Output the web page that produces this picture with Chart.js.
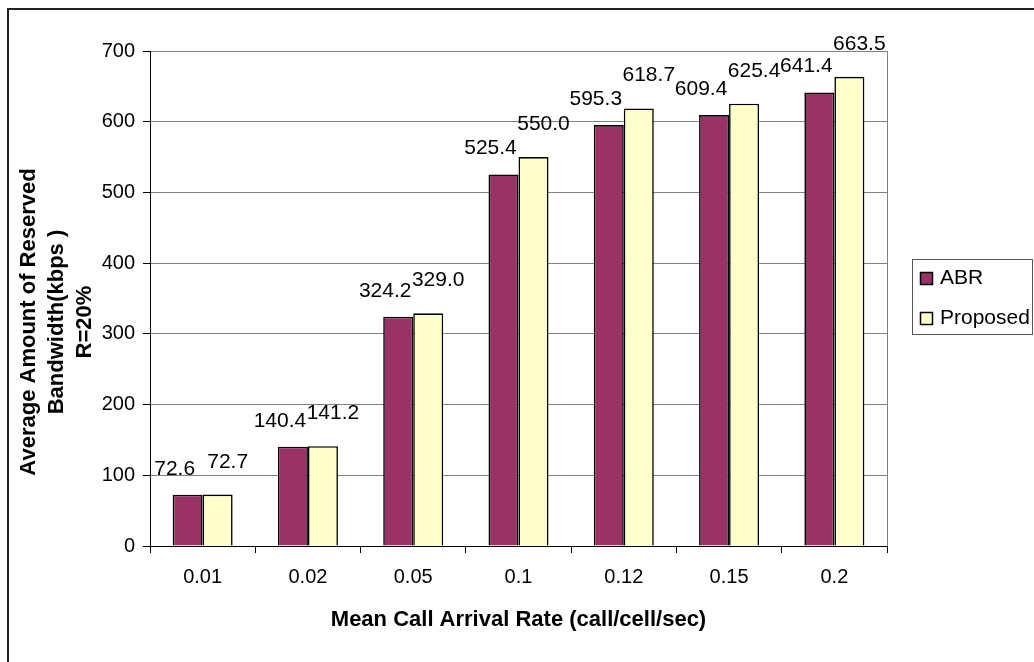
<!DOCTYPE html>
<html><head><meta charset="utf-8">
<script src="https://cdn.jsdelivr.net/npm/chart.js@4/dist/chart.umd.min.js"></script>
<style>html,body{margin:0;padding:0;background:#fff;} #wrap{width:1034px;height:662px;position:relative}</style>
</head><body><div id="wrap"><canvas id="c" width="1034" height="662"></canvas></div>
<script>
const categories = ['0.01','0.02','0.05','0.1','0.12','0.15','0.2'];
const abrValues = [72.6,140.4,324.2,525.4,595.3,609.4,641.4];
const proposedValues = [72.7,141.2,329.0,550.0,618.7,625.4,663.5];
const seriesNames = ['ABR','Proposed'];
const yTicks = [0,100,200,300,400,500,600,700];
const xTitle = 'Mean Call Arrival Rate (call/cell/sec)';
const yTitleLines = ['Average Amount of Reserved','Bandwidth(kbps )','R=20%'];

const FONT = "'Liberation Sans', Arial, sans-serif";

const framePlugin = {
  id:'frame',
  beforeDraw(chart){
    const ctx = chart.ctx;
    ctx.save();
    ctx.fillStyle='#fff'; ctx.fillRect(0,0,chart.width,chart.height);
    ctx.strokeStyle='#222'; ctx.lineWidth=2;
    ctx.strokeRect(8,9,1200,800);
    ctx.restore();
  },
  afterDraw(chart){
    const ctx = chart.ctx, a = chart.chartArea;
    ctx.save();
    // right border of plot area
    ctx.strokeStyle='#808080'; ctx.lineWidth=1;
    ctx.beginPath(); ctx.moveTo(Math.round(a.right)+0.5, a.top); ctx.lineTo(Math.round(a.right)+0.5, a.bottom); ctx.stroke();
    // y axis title
    ctx.fillStyle='#000';
    ctx.font = "bold 22px " + FONT;
    ctx.textAlign='center'; ctx.textBaseline='middle';
    const xs=[29,57,85];
    yTitleLines.forEach((t,i)=>{
      ctx.save(); ctx.translate(xs[i],322); ctx.rotate(-Math.PI/2); ctx.fillText(t,0,0); ctx.restore();
    });
    // data labels
    ctx.font = "21px " + FONT;
    ctx.textAlign='center'; ctx.textBaseline='alphabetic';
    const dxs=[-13,10], dys=[20,27];
    chart.data.datasets.forEach((ds,di)=>{
      const meta = chart.getDatasetMeta(di);
      meta.data.forEach((bar,i)=>{
        ctx.fillText(Number(ds.data[i]).toFixed(1), bar.x+dxs[di], bar.y-dys[di]);
      });
    });
    // legend
    ctx.strokeStyle='#555'; ctx.lineWidth=1;
    ctx.strokeRect(912.5,259.5,120,75);
    const ys=[272,312];
    chart.data.datasets.forEach((ds,di)=>{
      ctx.fillStyle=ds.backgroundColor;
      ctx.fillRect(920.5,ys[di]+0.5,12,12);
      ctx.strokeStyle='#000'; ctx.lineWidth=1.5;
      ctx.strokeRect(920.5,ys[di]+0.5,12,12);
      ctx.fillStyle='#000'; ctx.textAlign='left'; ctx.textBaseline='middle';
      ctx.font = "21px " + FONT;
      ctx.fillText(ds.label, 940, ys[di]+6);
    });
    ctx.restore();
  }
};

new Chart(document.getElementById('c'), {
  type:'bar',
  data:{
    labels:categories,
    datasets:[
      {label:seriesNames[0], data:abrValues, backgroundColor:'#993366', borderColor:'#000', borderWidth:1.6},
      {label:seriesNames[1], data:proposedValues, backgroundColor:'#FFFFCC', borderColor:'#000', borderWidth:1.6}
    ]
  },
  options:{
    responsive:false, animation:false, devicePixelRatio:1,
    layout:{padding:{left:0,top:51,right:147,bottom:0}},
    datasets:{bar:{categoryPercentage:0.57, barPercentage:1.0}},
    plugins:{legend:{display:false}, tooltip:{enabled:false}},
    scales:{
      x:{
        afterFit(s){ s.height = 116; },
        grid:{offset:true, drawOnChartArea:false, drawTicks:true, tickLength:7, color:'#000', tickColor:'#000'},
        border:{display:true, color:'#000', width:1},
        ticks:{color:'#000', font:{family:FONT, size:20}, padding:12, maxRotation:0},
        title:{display:true, text:xTitle, color:'#000', font:{family:FONT, size:22, weight:'bold'}, padding:{top:0,bottom:29}}
      },
      y:{
        min:0, max:700,
        afterFit(s){ s.width = 150; },
        afterBuildTicks(s){ s.ticks = yTicks.map(v=>({value:v})); },
        grid:{color:'#808080', lineWidth:1, tickLength:7, tickColor:'#000'},
        border:{display:true, color:'#000', width:1},
        ticks:{color:'#000', font:{family:FONT, size:20}, padding:8}
      }
    }
  },
  plugins:[framePlugin]
});
</script>
</body></html>
